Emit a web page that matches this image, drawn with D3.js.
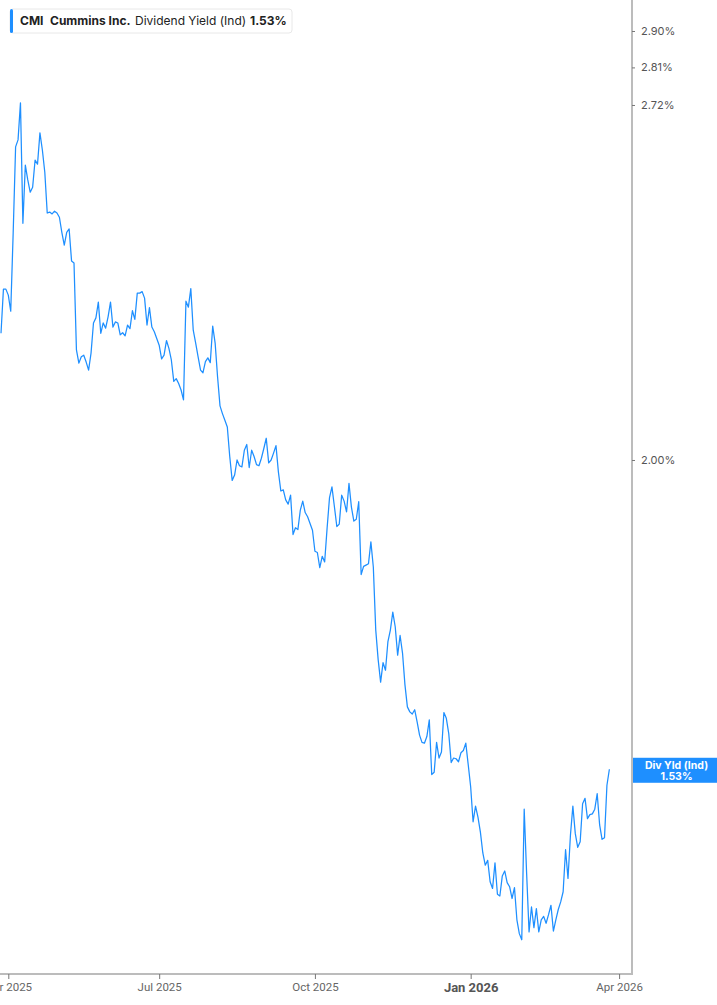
<!DOCTYPE html>
<html>
<head>
<meta charset="utf-8">
<script src="https://d3js.org/d3.v7.min.js"></script>
<style>
  body { margin: 0; background: #fff; }
  svg { display: block; }
</style>
</head>
<body>
<div id="chart"></div>
<script>
// trading calendar
var firstDay = "2025-03-27";
var lastCalendarDay = "2026-04-10";
var marketHolidays = ["2025-04-18", "2025-05-26", "2025-06-19", "2025-07-04", "2025-09-01",
    "2025-11-27", "2025-12-25", "2026-01-01", "2026-01-19", "2026-02-16", "2026-04-03"];

// CMI dividend yield (%), one value per trading day
var yieldValues = [
    2.232, 2.319, 2.319, 2.307, 2.275, 2.434, 2.623, 2.639, 2.725, 2.455, 2.582, 2.549,
    2.522, 2.533, 2.593, 2.584, 2.655, 2.616, 2.566, 2.477, 2.479, 2.475, 2.481, 2.477,
    2.468, 2.436, 2.409, 2.436, 2.443, 2.376, 2.372, 2.200, 2.175, 2.187, 2.190, 2.177,
    2.162, 2.194, 2.252, 2.262, 2.293, 2.232, 2.252, 2.242, 2.264, 2.293, 2.244, 2.254,
    2.252, 2.229, 2.233, 2.227, 2.248, 2.241, 2.276, 2.259, 2.311, 2.311, 2.314, 2.301,
    2.248, 2.282, 2.244, 2.235, 2.222, 2.209, 2.183, 2.190, 2.218, 2.203, 2.181, 2.141,
    2.146, 2.137, 2.125, 2.107, 2.295, 2.283, 2.320, 2.238, 2.213, 2.187, 2.162, 2.157,
    2.178, 2.185, 2.176, 2.246, 2.213, 2.149, 2.096, 2.082, 2.070, 2.058, 2.006, 1.965,
    1.974, 2.000, 1.990, 1.988, 2.017, 2.027, 1.987, 2.017, 2.006, 1.992, 1.990, 2.003,
    2.020, 2.038, 1.995, 2.000, 2.012, 2.025, 1.979, 1.947, 1.949, 1.932, 1.925, 1.940,
    1.875, 1.886, 1.883,
    1.915, 1.930, 1.911, 1.904, 1.893, 1.882, 1.848, 1.846, 1.822, 1.840, 1.831, 1.885,
    1.936, 1.954, 1.921, 1.888, 1.892, 1.940, 1.930, 1.912, 1.960, 1.920, 1.897, 1.900,
    1.929, 1.811, 1.824, 1.826, 1.828, 1.863, 1.823, 1.726, 1.682, 1.650, 1.678, 1.667,
    1.709, 1.726, 1.753, 1.731, 1.689, 1.718, 1.692, 1.646, 1.615, 1.608, 1.605, 1.611,
    1.594, 1.576, 1.566, 1.565, 1.574, 1.597, 1.523, 1.526, 1.566, 1.545, 1.553, 1.607,
    1.599, 1.578, 1.539, 1.545, 1.544, 1.540, 1.552, 1.555, 1.565, 1.536, 1.507, 1.462,
    1.482, 1.468, 1.449, 1.423, 1.408, 1.414, 1.388, 1.380, 1.411, 1.373, 1.371, 1.395,
    1.401, 1.387, 1.382, 1.368, 1.381, 1.343, 1.327, 1.320, 1.478, 1.398, 1.329, 1.358,
    1.334, 1.356, 1.329, 1.343, 1.347, 1.339, 1.349, 1.360, 1.330, 1.343, 1.355, 1.364,
    1.376, 1.427, 1.392, 1.445, 1.482, 1.447, 1.430, 1.437, 1.485, 1.492, 1.466, 1.471,
    1.472, 1.478, 1.498, 1.458, 1.440, 1.442, 1.509, 1.530
];

var xTickDates = ["2025-04-01", "2025-07-01", "2025-10-01", "2026-01-02", "2026-04-01"];
var xTickLabels = ["Apr 2025", "Jul 2025", "Oct 2025", "Jan 2026", "Apr 2026"];
var yTickValues = [2.00, 2.72, 2.81, 2.90];

var ticker = "CMI";
var company = "Cummins Inc.";
var metric = "Dividend Yield (Ind)";
var shortMetric = "Div Yld (Ind)";

var lineColor = "#1e8fff";

function tradingDays() {
    var days = [];
    var fmt = d3.utcFormat("%Y-%m-%d");
    var d = new Date(firstDay + "T00:00:00Z");
    var end = new Date(lastCalendarDay + "T00:00:00Z");
    while (d <= end) {
        var wd = d.getUTCDay();
        var s = fmt(d);
        if (wd != 0 && wd != 6 && marketHolidays.indexOf(s) < 0) days.push(s);
        d = d3.utcDay.offset(d, 1);
    }
    return days;
}

function drawChart() {
    var width = 717, height = 1005;
    var plotRight = 632, plotBottom = 974;

    var days = tradingDays();
    var data = yieldValues.map((v, i) => ({date: days[i], i: i, v: v}));
    var last = data[data.length - 1];

    var svg = d3.select("#chart")
                .append("svg")
                .attr("width", width)
                .attr("height", height);

    var x = d3.scaleLinear()
            .domain([0, 259.3])
            .range([1, plotRight]);

    var y = d3.scaleLog()
            .domain([1.2814, 2.9789])
            .range([plotBottom, 0]);

    // bottom axis
    var xTicks = xTickDates.map((d, k) => ({i: days.indexOf(d), label: xTickLabels[k]}));
    var yearTick = days.indexOf("2026-01-02");
    var xAxis = svg.append("g")
        .attr("transform", "translate(0," + plotBottom + ")")
        .call(d3.axisBottom(x)
            .tickValues(xTicks.map(t => t.i))
            .tickFormat((d, k) => xTicks[k].label)
            .tickSize(5)
            .tickPadding(4)
            .tickSizeOuter(0));
    xAxis.select(".domain").attr("stroke", "#bcbcbc").attr("stroke-width", 2)
        .attr("d", "M0,0H" + plotRight);
    xAxis.selectAll(".tick line").attr("stroke", "#777");
    xAxis.selectAll(".tick text")
        .style("font-family", "Roboto, 'Liberation Sans', sans-serif")
        .style("font-size", d => d == yearTick ? "13px" : "11.5px")
        .style("font-weight", d => d == yearTick ? "bold" : "normal")
        .attr("fill", d => d == yearTick ? "#555" : "#666");

    // right axis
    var yAxis = svg.append("g")
        .attr("transform", "translate(" + plotRight + ",0)")
        .call(d3.axisRight(y)
            .tickValues(yTickValues)
            .tickFormat(d => d3.format(".2f")(d) + "%")
            .tickSize(3)
            .tickPadding(6)
            .tickSizeOuter(0));
    yAxis.select(".domain").attr("stroke", "#bcbcbc").attr("stroke-width", 2)
        .attr("d", "M0,0V" + (plotBottom + 1));
    yAxis.selectAll(".tick line").attr("stroke", "#777");
    yAxis.selectAll(".tick text")
        .style("font-family", "Inter, Roboto, sans-serif")
        .style("font-size", "11px")
        .attr("fill", "#555");

    // yield line
    svg.append("path")
        .datum(data)
        .attr("fill", "none")
        .attr("stroke", lineColor)
        .attr("stroke-width", 1.25)
        .attr("stroke-linejoin", "round")
        .attr("d", d3.line().x(d => x(d.i)).y(d => y(d.v)));

    // last value badge
    var ly = y(last.v);
    var bx = (plotRight + width) / 2 + 2;
    svg.append("rect")
        .attr("x", plotRight + 1)
        .attr("y", ly - 11.5)
        .attr("width", width - plotRight - 1)
        .attr("height", 25)
        .attr("fill", lineColor);
    svg.append("text")
        .attr("x", bx)
        .attr("y", ly)
        .attr("text-anchor", "middle")
        .attr("fill", "#fff")
        .style("font-family", "Inter, Roboto, sans-serif")
        .style("font-size", "10.5px")
        .style("font-weight", "bold")
        .text(shortMetric);
    svg.append("text")
        .attr("x", bx)
        .attr("y", ly + 11)
        .attr("text-anchor", "middle")
        .attr("fill", "#fff")
        .style("font-family", "Inter, Roboto, sans-serif")
        .style("font-size", "10.5px")
        .style("font-weight", "bold")
        .text(d3.format(".2f")(last.v) + "%");

    // legend
    var legend = svg.append("g").attr("transform", "translate(10,9)");
    legend.append("rect")
        .attr("width", 282)
        .attr("height", 24)
        .attr("rx", 3)
        .attr("fill", "#fff")
        .attr("stroke", "#e8e8e8");
    legend.append("rect")
        .attr("width", 3)
        .attr("height", 24)
        .attr("rx", 1.5)
        .attr("fill", lineColor);
    var lt = legend.append("text")
        .attr("y", 16)
        .attr("fill", "#222")
        .style("font-family", "Inter, Roboto, sans-serif")
        .style("font-size", "12px");
    lt.append("tspan").attr("x", 10).style("font-weight", "bold").text(ticker);
    lt.append("tspan").attr("x", 40).style("font-weight", "bold").text(company);
    lt.append("tspan").attr("x", 125).text(metric);
    lt.append("tspan").attr("x", 240).style("font-weight", "bold").text(d3.format(".2f")(last.v) + "%");
}

drawChart();
</script>
</body>
</html>
